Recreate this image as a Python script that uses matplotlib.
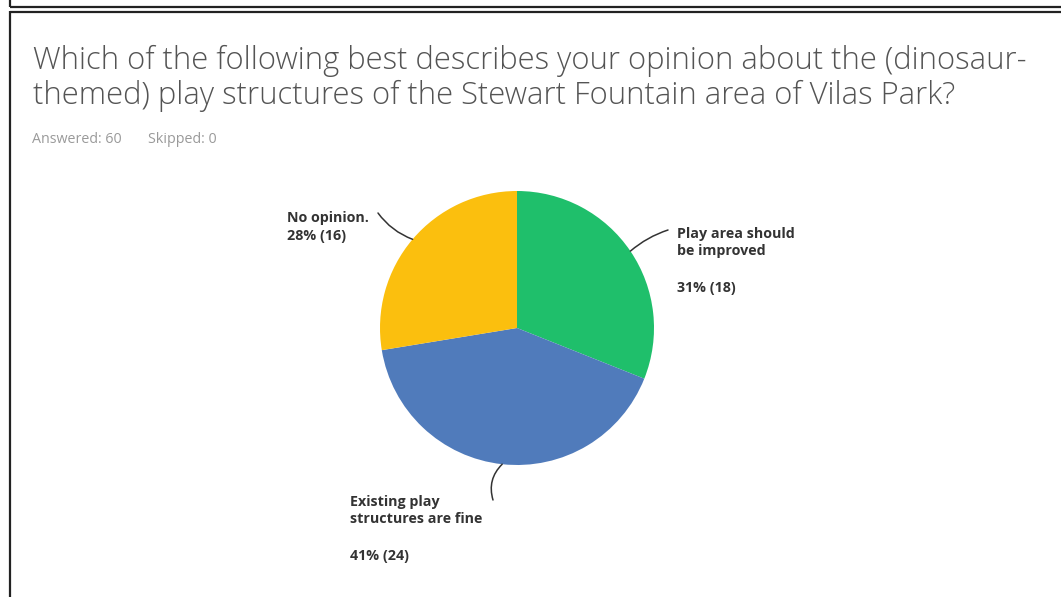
import matplotlib
matplotlib.use("Agg")
import matplotlib.pyplot as plt
import numpy as np

# ---- data ----
categories = ["Play area should\nbe improved", "Existing play\nstructures are fine", "No opinion."]
counts = [18, 24, 16]
percent_labels = ["31%", "41%", "28%"]
colors = ["#1fbf6b", "#507bbb", "#fbbf0e"]

title_lines = ["Which of the following best describes your opinion about the (dinosaur-",
               "themed) play structures of the Stewart Fountain area of Vilas Park?"]
answered = 60
skipped = 0

W, H = 1061, 597
fig = plt.figure(figsize=(W / 100, H / 100), dpi=100)
ax = fig.add_axes([0, 0, 1, 1])

def Y(y):
    return H - y

cx, cy, R = 517, 328, 137
wedges, _ = ax.pie(counts, colors=colors, startangle=90, counterclock=False,
                   center=(cx, Y(cy)), radius=R, wedgeprops=dict(linewidth=0))
ax.set_xlim(0, W)
ax.set_ylim(0, H)
ax.set_aspect("equal")
ax.axis("off")

# frame lines
lc = "#222222"
ax.plot([9.5, 9.5], [Y(0), Y(7)], color=lc, lw=1.6, solid_capstyle="butt")
ax.plot([9.5, W], [Y(7), Y(7)], color=lc, lw=1.6, solid_capstyle="butt")
ax.plot([9.5, W], [Y(11.5), Y(11.5)], color=lc, lw=1.6, solid_capstyle="butt")
ax.plot([9.5, 9.5], [Y(11), Y(H)], color=lc, lw=1.6, solid_capstyle="butt")

FONT = "Open Sans"
# title
for line, yb in zip(title_lines, [69, 104]):
    ax.text(33, Y(yb), line, fontsize=22.3, family=FONT, fontweight="light",
            color="#545454", va="baseline", ha="left")
ax.text(32, Y(143), f"Answered: {answered}", fontsize=10.3, family=FONT,
        color="#9a9a9a", va="baseline")
ax.text(148, Y(143), f"Skipped: {skipped}", fontsize=10.3, family=FONT,
        color="#9a9a9a", va="baseline")

# label layout: text x, last-line baseline y, pct baseline y, leader end point
layout = [
    dict(x=677, y=255, py=292, end=(668, 230), rad=0.1),
    dict(x=350, y=523, py=560, end=(493, 500), rad=-0.3),
    dict(x=287, y=222, py=240, end=(378, 213), rad=0.15),
]
tc = "#333333"
for w, cat, n, p, L in zip(wedges, categories, counts, percent_labels, layout):
    ang = np.deg2rad((w.theta1 + w.theta2) / 2)
    sx, sy = cx + R * np.cos(ang), Y(cy) + R * np.sin(ang)
    ex, ey = L["end"]
    ax.annotate("", xy=(sx, sy), xytext=(ex, Y(ey)),
                arrowprops=dict(arrowstyle="-", color="#333333", lw=1.1,
                                connectionstyle=f"arc3,rad={L['rad']}",
                                shrinkA=0, shrinkB=0))
    ax.text(L["x"], Y(L["y"]), cat, fontsize=10.3, family=FONT, fontweight="bold",
            color=tc, va="baseline", ha="left", linespacing=1.25)
    ax.text(L["x"], Y(L["py"]), f"{p} ({n})", fontsize=10.3, family=FONT,
            fontweight="bold", color=tc, va="baseline", ha="left")

fig.savefig("out.png", dpi=100, facecolor="white")
